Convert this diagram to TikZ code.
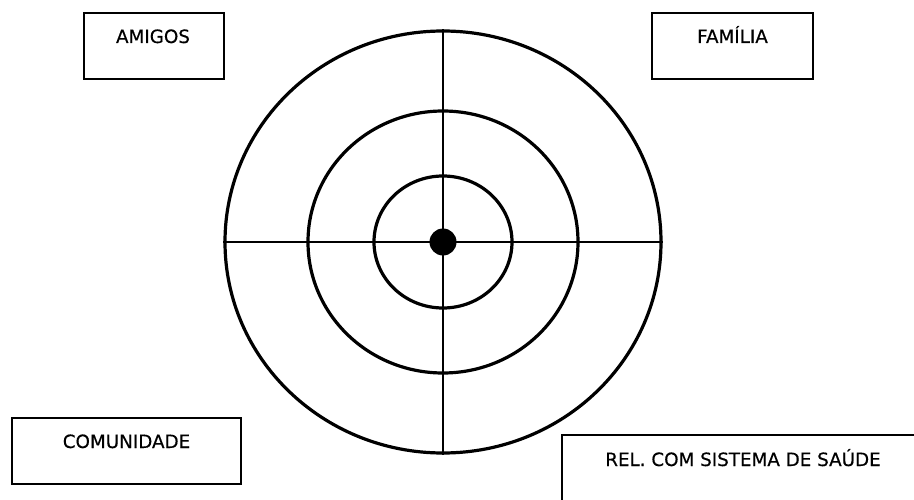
\documentclass[tikz,border=0pt]{standalone}
\usepackage{fontspec}
\setmainfont{DejaVu Sans}
\newfontfamily\lblfont{DejaVu Sans}[FakeBold=0.5]
\usetikzlibrary{shapes.geometric}
\begin{document}
\begin{tikzpicture}[x=1pt,y=-1pt,
  ring/.style={draw=black,line width=3.2pt,ellipse,inner sep=0pt},
  cross/.style={draw=black,line width=2.8pt},
  labelbox/.style={draw=black,line width=2.2pt},
  lbl/.style={font=\lblfont\fontsize{18.3}{22}\selectfont,anchor=base,inner sep=0pt}]
\useasboundingbox (0,0) rectangle (914,500);
% rings
\node[ring,minimum width=436pt,minimum height=422pt] (outer) at (443,242) {};
\node[ring,minimum width=270pt,minimum height=262pt] (middle) at (443,242) {};
\node[ring,minimum width=138pt,minimum height=132pt] (inner) at (443,242) {};
\draw[cross] (outer.west) -- (outer.east);
\draw[cross] (outer.north) -- (outer.south);
\node[circle,fill=black,inner sep=0pt,minimum size=27pt] (dot) at (443,242) {};
% boxes
\draw[labelbox] (84,13) rectangle (224,79);
\draw[labelbox] (652,13) rectangle (813,79);
\draw[labelbox] (12,418) rectangle (241,484);
\draw[labelbox] (562,435) rectangle (930,520);
% labels
\node[lbl] (amigos) at (153,43) {AMIGOS};
\node[lbl] (familia) at (732.5,43) {FAMÍLIA};
\node[lbl] (comunidade) at (126.5,448) {COMUNIDADE};
\node[lbl] (saude) at (743,466) {REL. COM SISTEMA DE SAÚDE};
\end{tikzpicture}
\end{document}
